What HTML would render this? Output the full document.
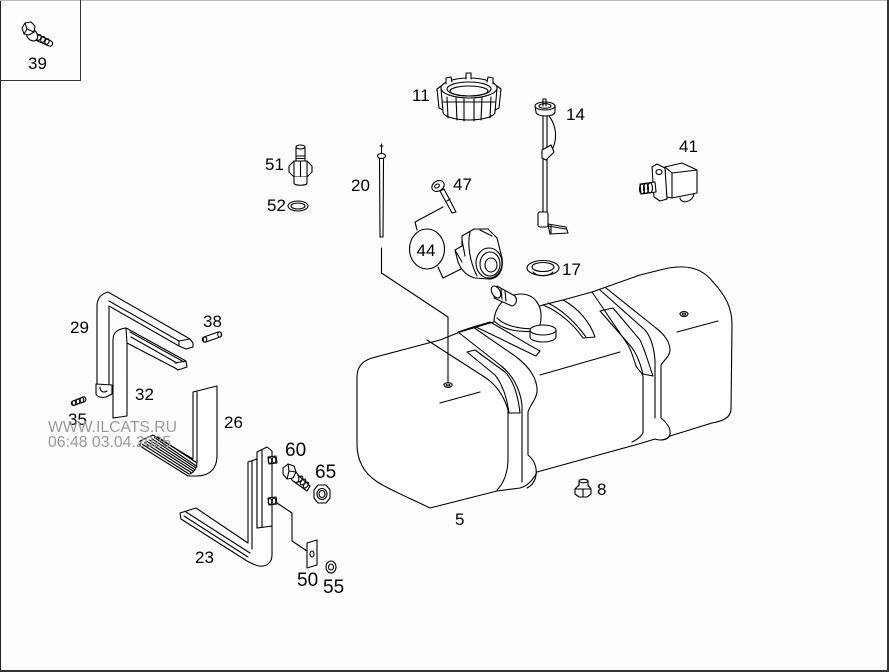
<!DOCTYPE html>
<html><head><meta charset="utf-8"><style>
html,body{margin:0;padding:0;background:#fff;}
svg{display:block;}
text{font-family:"Liberation Sans",Arial,sans-serif;font-size:17px;fill:#000;}
.big{font-size:19px;}
.wm{font-size:15.5px;fill:#9a9a9a;}
</style></head><body>
<svg width="889" height="672" viewBox="0 0 889 672" xmlns="http://www.w3.org/2000/svg">
<rect width="889" height="672" fill="#fdfdfd"/>
<!-- frame -->
<rect x="0" y="0" width="1" height="672" fill="#222"/>
<rect x="0" y="0" width="889" height="1" fill="#bbb"/>
<rect x="887" y="0" width="2" height="672" fill="#333"/>
<rect x="0" y="670" width="889" height="2" fill="#333"/>
<!-- top-left box -->
<rect x="80" y="0" width="1" height="81" fill="#333"/>
<rect x="0" y="80" width="81" height="1" fill="#333"/>

<g fill="none" stroke="#000" stroke-width="1.1" stroke-linejoin="round" stroke-linecap="round">

<!-- ===== TANK ===== -->
<path fill="#fff" d="M430,508 C405,496 386,488 376,481 C363,472 357,459 357,444 L357,377 C357,367 362,361 372,358 L440,340 L460,332 L490,323 L500,320 L543,305 L563,300 L592,292 L640,275 L660,270 C686,263 702,268 713,282 C726,296 732,308 732,325 L731,410 C730,418 723,421 712,423 L670,436 C666,440 660,441 655,439 L642,443 L537,472 C533,480 528,486 520,488 L497,491 Z"/>
<path d="M440,403 L480,392 M540,375 L620,352 M677,332 L718,321"/>

<!-- left strap -->
<path d="M427,340 L486,378 C496,385 504,396 508,410 L508,462 C507,475 503,484 497,490"/>
<path d="M458,332 L500,365 C512,374 520,388 522,405 L522,482"/>
<path d="M473,327 L515,356 C530,367 538,380 537,392 C536,400 530,405 528,412 L528,455 C534,460 537,467 536,475 C535,482 531,486 527,488"/>
<path d="M467,352 L475,350 L505,372 C513,380 518,395 520,413 L509,413 C507,398 503,385 495,375 Z"/>
<path d="M458,332 L473,327 L490,322"/>
<path d="M490,322 C508,332 525,343 540,351 L536,356 C515,346 493,335 476,327"/>

<!-- middle rib -->
<path fill="#fff" d="M543,305 C556,310 572,322 583,338 L595,337 C590,322 578,308 563,300 Z"/>
<path d="M548,303 C562,310 575,322 586,337"/>

<!-- right strap -->
<path d="M592,292 L628,345 C632,352 634,360 636,366 C638,370 642,372 643,376 L643,433 C640,438 636,440 632,442"/>
<path d="M600,290 L645,330 C651,337 654,348 655,360 L655,418"/>
<path d="M606,288 L656,328 C664,334 670,342 670,350 C670,356 664,360 661,365 L661,418 C667,423 671,428 670,434 C669,439 665,440 660,440"/>
<path d="M600,311 L613,308 L640,340 C645,350 648,362 653,376 L643,374 C640,362 635,350 628,343 Z"/>

<!-- filler dome -->
<path fill="#fff" d="M494,321 C495,305 507,294 521,294 C534,294 542,305 541,318 C541,324 539,328 537,331 C520,333 503,330 494,321 Z"/>
<path d="M497,318 C505,326 520,329 536,329"/>
<path fill="#fff" d="M497,286 L515,296 C518,300 516,305 512,306 L494,298 Z"/>
<ellipse cx="496" cy="292" rx="4" ry="6.5" transform="rotate(-30 496 292)" fill="#fff"/>
<path d="M501,289 L502,299 M505,291 L506,301"/>
<path fill="#fff" d="M530,330 L530,337 A13,5 0 0 0 556,337 L556,330 Z"/>
<ellipse cx="543" cy="330" rx="13" ry="5" fill="#fff"/>

<!-- holes -->
<ellipse cx="448" cy="385" rx="4" ry="2.5"/>
<ellipse cx="448" cy="385" rx="1.8" ry="1"/>
<ellipse cx="684" cy="314" rx="4" ry="2.5"/>
<ellipse cx="684" cy="314" rx="1.8" ry="1"/>

<!-- leader from 20 -->
<path d="M381.5,248 L381.5,273 L448,317 L448,382"/>

<!-- ===== 39 bolt ===== -->
<path fill="#fff" d="M35,33 L51,41 C54,43 52,47 49,46 L33,39 Z"/>
<ellipse cx="39" cy="37.5" rx="2" ry="3" transform="rotate(25 39 37.5)"/>
<ellipse cx="43" cy="39.5" rx="2" ry="3" transform="rotate(25 43 39.5)"/>
<ellipse cx="47" cy="41.5" rx="2" ry="3" transform="rotate(25 47 41.5)"/>
<ellipse cx="32" cy="35" rx="5" ry="6.5" transform="rotate(-40 32 35)" fill="#fff"/>
<path fill="#fff" d="M22,28 L25,23 L31,22 L35,26 L34,32 L29,35 L24,34 Z"/>
<path d="M25,23 L27,29 L34,32 M27,29 L24,34"/>

<!-- ===== 11 ring nut ===== -->
<path fill="#fff" d="M441,88 L443,112 A26,8 0 0 0 495,112 L497,88 Z"/>
<ellipse cx="469" cy="88" rx="28" ry="10" fill="#fff"/>
<ellipse cx="469" cy="89" rx="22" ry="7"/>
<ellipse cx="469" cy="91" rx="19" ry="5"/>
<path d="M447,97 L448,118 M456,98 L457,120 M464,99 L464,121 M474,99 L474,121 M482,98 L481,120 M491,97 L490,118 M443,102 L495,102"/>
<path fill="#fff" d="M446,84 L446,78 L451,77 L452,82"/>
<path fill="#fff" d="M466,79 L466,73 L471,73 L471,79"/>
<path fill="#fff" d="M487,82 L488,77 L493,78 L493,84"/>
<path d="M441,86 L437,89 L439,108 L443,110"/>
<path d="M497,86 L501,89 L499,108 L495,110"/>

<!-- ===== 14 sender ===== -->
<path fill="#fff" d="M535,106 L536,112 A9.5,4 0 0 0 555,112 L555,106 Z"/>
<ellipse cx="545" cy="106" rx="10" ry="4" fill="#fff"/>
<ellipse cx="545" cy="106" rx="6" ry="2.3"/>
<path d="M543,106 L543,99 L546,99 L546,106"/>
<path d="M543,116 L543,214 M547,116 L547,214"/>
<path d="M549,116 C556,125 558,138 552,150"/>
<path fill="#fff" d="M542,150 L551,145 L554,152 L546,160 L542,158 Z"/>
<rect x="538" y="212" width="10" height="15" rx="2" fill="#fff"/>
<path fill="#fff" d="M548,224 L566,227 L568,233 L550,234 Z"/>
<path d="M551,225 L551,233 M548,226 L566,229"/>

<!-- ===== 41 valve ===== -->
<path fill="#fff" d="M665,167 L682,163 L697,170 L697,193 L672,198 L666,197 Z"/>
<path d="M665,167 L672,173 L697,170 M672,173 L672,198"/>
<path d="M680,198 C681,204 692,203 694,194"/>
<path fill="#fff" d="M652,167 L657,164 L665,168 L667,199 L660,201 L654,197 Z"/>
<ellipse cx="659" cy="172" rx="3" ry="2.5"/>
<path fill="#fff" d="M640,184 L655,182 L656,192 L641,194 Z"/>
<ellipse cx="642" cy="189" rx="2.5" ry="5"/>
<ellipse cx="646" cy="188.5" rx="2.5" ry="5"/>
<ellipse cx="650" cy="188" rx="2.5" ry="5"/>

<!-- ===== 51 / 52 ===== -->
<ellipse cx="300.5" cy="147" rx="4.5" ry="2"/>
<path d="M296,147 L296,161 M305,147 L305,161 M296,156 L305,156 M296,158.5 L305,158.5"/>
<path fill="#fff" d="M289,166 L294,161 L307,161 L312,166 L312,172 L307,177 L294,177 L289,172 Z"/>
<path d="M294,161 L294,177 M300.5,161 L300.5,177 M307,161 L307,177"/>
<path fill="#fff" d="M294,177 L294,183 C294,186 307,186 307,183 L307,177"/>
<ellipse cx="298" cy="206" rx="10" ry="5"/>
<ellipse cx="298" cy="206" rx="7" ry="3"/>

<!-- ===== 20 dipstick ===== -->
<path d="M381.5,144 L381.5,154 M380,146 L383,146"/>
<ellipse cx="381.5" cy="156" rx="4" ry="2.5" fill="#fff"/>
<path d="M379.5,158.5 L380,237 L383,237 L383.5,158.5"/>

<!-- ===== 47 key ===== -->
<path fill="#fff" d="M440,191 L452,213 L456,212 L444,189 Z"/>
<path d="M447,201 L450,199"/>
<ellipse cx="438" cy="186" rx="6.5" ry="5" transform="rotate(-30 438 186)" fill="#fff"/>
<ellipse cx="437" cy="186" rx="2.5" ry="1.8" transform="rotate(-30 437 186)"/>

<!-- ===== 44 ===== -->
<ellipse cx="427" cy="249" rx="17.5" ry="20"/>
<path d="M417,230 L415,222 L443,207"/>
<path d="M438,267 L443,278 L463,268"/>
<path fill="#fff" d="M462,236 L474,229 L488,229 L497,238 L502,258 C504,272 497,279 489,279 L475,278 C466,276 459,268 457,258 L455,250 L462,246 Z"/>
<path d="M470,232 C467,245 470,262 477,276 M462,240 L465,256 M455,250 L462,262 M480,230 L492,236"/>
<ellipse cx="489" cy="263" rx="13" ry="15" fill="#fff"/>
<ellipse cx="490" cy="264" rx="10" ry="12"/>
<ellipse cx="491" cy="265" rx="6" ry="7"/>

<!-- ===== 17 ===== -->
<ellipse cx="543" cy="268" rx="16" ry="7.5" fill="#fff"/>
<ellipse cx="543" cy="267" rx="11" ry="4.5"/>
<path d="M533,272 C537,277 549,277 553,272"/>

<!-- ===== 8 plug ===== -->
<path fill="#fff" d="M575,489 L579,485 L588,485 L591,489 L591,494 L587,497 L579,497 L575,494 Z"/>
<path d="M575,489 L591,489 M583,489 L583,497"/>
<path fill="#fff" d="M579,486 L579,481 C579,479 588,479 588,481 L588,486"/>
<ellipse cx="583.5" cy="481" rx="4.5" ry="1.8"/>

<!-- ===== 29 ===== -->
<path fill="#fff" d="M97,390 L97,306 C97,298 101,294 108,292 L190,339 L193,343 L193,347 L186,349 L179,346 L109,306 L109,390 Z"/>
<path d="M179,346 L179,341 L190,339 M179,341 L109,301"/>
<path fill="#fff" d="M96,384 L96,394 C97,397 102,398 106,397 L112,394 L112,385 Z"/>
<path d="M100,387 C100,392 104,393 107,391"/>

<!-- ===== 32 ===== -->
<path fill="#fff" d="M113,418 L113,340 C113,332 118,329 126,328 L186,361 L187,367 L178,370 L175,368 L127,343 L127,416 Z"/>
<path d="M126,328 L127,343 M130,332 L184,362 M131,337 L177,363 M175,363 L186,361"/>

<!-- ===== 38 / 35 pins ===== -->
<path fill="#fff" d="M204,337 L218,332 C222,331 223,336 220,337 L206,342 C202,343 201,338 204,337 Z"/>
<ellipse cx="205" cy="339.5" rx="1.8" ry="2.6"/>
<ellipse cx="219.5" cy="334.5" rx="1.8" ry="2.6"/>
<path fill="#fff" d="M73,401 L83,397 C86,396 87,401 84,402 L75,405 C71,406 70,402 73,401 Z"/>
<ellipse cx="74" cy="403" rx="1.8" ry="2.4"/>
<ellipse cx="78" cy="401.5" rx="1.8" ry="2.4"/>
<ellipse cx="82" cy="400" rx="1.8" ry="2.4"/>

<!-- ===== 26 ===== -->
<path fill="#fff" d="M140,441 L153,435 L193,459 L193,392 L217,386 L217,456 C217,469 209,476 197,476 L188,476 L140,446 Z"/>
<path d="M197,392 L197,462 C197,468 194,472 190,474"/>
<path d="M142,444 L189,474 M144.5,442.7 L191,472.5 M147,441.4 L193,471 M149.5,440.1 L194.5,469.5 M152,438.8 L196,468 M154.5,437.5 L197,466.5 M157,436.5 L197,463"/>

<!-- ===== 23 ===== -->
<path fill="#fff" d="M180,513 L196,508 L248,543 L248,462 L257,459 L257,528 L272,526 L272,555 C272,563 266,567 259,566 C254,565 251,563 247,561 L181,519 Z"/>
<path d="M186,512 L250,553 M184,516 L248,557 M252,461 L252,549"/>
<path fill="#fff" d="M257,452 L267,447 L272,451 L272,526 L257,528 Z"/>
<path d="M262,450 L262,527"/>
<path fill="#fff" d="M268,457 L276,456 L277,463 L269,464 Z"/>
<ellipse cx="270" cy="460.5" rx="1.8" ry="3"/>
<ellipse cx="274" cy="460" rx="1.8" ry="3"/>
<path fill="#fff" d="M268,498 L276,497 L277,504 L269,505 Z"/>
<ellipse cx="270" cy="501.5" rx="1.8" ry="3"/>
<ellipse cx="274" cy="501" rx="1.8" ry="3"/>

<!-- ===== 60 bolt ===== -->
<path fill="#fff" d="M296,473 L310,486 L307,491 L293,481 Z"/>
<ellipse cx="300" cy="479" rx="2" ry="3.5" transform="rotate(40 300 479)"/>
<ellipse cx="303" cy="482" rx="2" ry="3.5" transform="rotate(40 303 482)"/>
<ellipse cx="306" cy="485" rx="2" ry="3.5" transform="rotate(40 306 485)"/>
<ellipse cx="294" cy="476" rx="4" ry="7" transform="rotate(-30 294 476)" fill="#fff"/>
<path fill="#fff" d="M283,468 L288,464 L294,466 L296,472 L293,478 L287,479 L283,474 Z"/>
<path d="M288,464 L289,471 L296,472 M289,471 L287,479"/>

<!-- ===== 65 nut ===== -->
<path fill="#fff" d="M314,490 L318,485 L326,485 L330,490 L330,498 L326,503 L318,503 L314,498 Z"/>
<ellipse cx="322" cy="494" rx="5" ry="5.5"/>
<ellipse cx="322" cy="494" rx="3" ry="3.5"/>

<!-- ===== 50 / 55 ===== -->
<path d="M277,503 L292,513 L292,541 L307,551"/>
<path fill="#fff" d="M307,543 L317,540 L317,565 L307,568 Z"/>
<ellipse cx="312" cy="554" rx="2" ry="3"/>
<ellipse cx="331" cy="567" rx="5" ry="6" fill="#fff"/>
<ellipse cx="331" cy="567" rx="2.5" ry="3"/>
</g>

<!-- labels -->
<text x="28" y="69">39</text>
<text x="412" y="101">11</text>
<text x="566" y="120">14</text>
<text x="679" y="152">41</text>
<text x="265" y="170">51</text>
<text x="351" y="191">20</text>
<text x="453" y="190">47</text>
<text x="267" y="211">52</text>
<text x="426" y="256" text-anchor="middle">44</text>
<text x="562" y="275">17</text>
<text x="70" y="333">29</text>
<text x="203" y="327">38</text>
<text x="135" y="400">32</text>
<text x="68" y="425">35</text>
<text x="224" y="428">26</text>
<text class="big" x="285" y="456">60</text>
<text class="big" x="315" y="478">65</text>
<text x="195" y="563">23</text>
<text class="big" x="297" y="586">50</text>
<text class="big" x="323" y="593">55</text>
<text x="597" y="495">8</text>
<text x="455" y="525">5</text>

<!-- watermark -->
<text class="wm" x="48" y="432" textLength="129" lengthAdjust="spacingAndGlyphs">WWW.ILCATS.RU</text>
<text class="wm" x="48" y="447" textLength="123" lengthAdjust="spacingAndGlyphs">06:48 03.04.2025</text>
</svg>
</body></html>
